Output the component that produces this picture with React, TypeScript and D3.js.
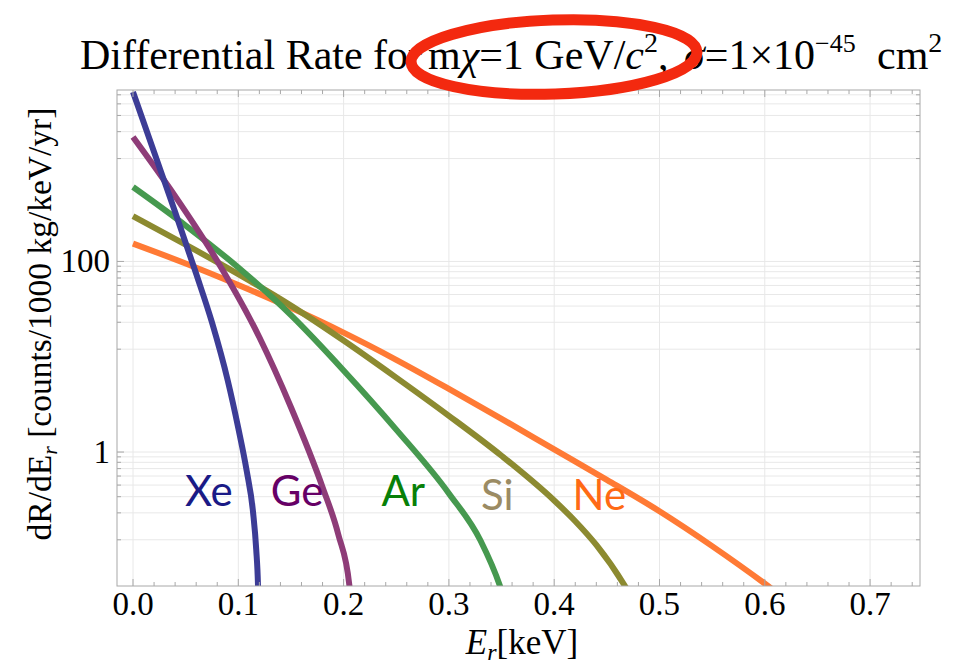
import React from "react";
import * as d3 from "d3";

// ---------- data ----------
const energyXe = [0, 0.02, 0.04, 0.06, 0.075, 0.09, 0.1, 0.108, 0.114, 0.117, 0.1187, 0.1195];
const rateXe = [6000, 1406, 330, 74.1, 22.9, 5.62, 1.78, 0.631, 0.234, 0.0955, 0.0398, 0.0158];

const energyGe = [0, 0.04, 0.08, 0.12, 0.15, 0.18, 0.195, 0.2055, 0.208];
const rateGe = [2020, 484, 101, 16.0, 2.95, 0.427, 0.136, 0.0398, 0.02];

const energyAr = [0, 0.05, 0.1, 0.15, 0.2, 0.25, 0.3, 0.33, 0.3485, 0.355];
const rateAr = [604, 238, 86.3, 27.3, 7.18, 1.72, 0.368, 0.118, 0.0393, 0.0232];

const energySi = [0, 0.05, 0.1, 0.15, 0.2, 0.25, 0.3, 0.35, 0.4, 0.42, 0.44, 0.4672, 0.48];
const rateSi = [299, 150, 73.5, 34.4, 14.8, 6.04, 2.4, 0.914, 0.31, 0.188, 0.106, 0.0393, 0.0224];

const energyNe = [0, 0.05, 0.1, 0.15, 0.2, 0.25, 0.3, 0.35, 0.4, 0.45, 0.5, 0.55, 0.603, 0.65];
const rateNe = [154, 95.1, 56.6, 32.6, 17.9, 9.29, 4.6, 2.23, 1.067, 0.511, 0.239, 0.103, 0.0393, 0.0155];

const elements = ["Ne", "Si", "Ar", "Ge", "Xe"];
const lineColors = ["#ff7a35", "#8c8a30", "#46994f", "#8e3c78", "#3c3c96"];
const labelColors = ["#ff6a14", "#9b8b63", "#088008", "#660066", "#1a1a86"];
// label anchor (left edge energy, baseline rate)
const labelEnergy = [0.4174, 0.3305, 0.2359, 0.1308, 0.0494];
const labelRate = [0.246, 0.246, 0.271, 0.271, 0.271];

const xMajorTicks = [0, 0.1, 0.2, 0.3, 0.4, 0.5, 0.6, 0.7];
const xTickLabels = ["0.0", "0.1", "0.2", "0.3", "0.4", "0.5", "0.6", "0.7"];
const yMajorTicks = [1, 100];
const yTickLabels = ["1", "100"];
const yMinorMantissas = [1.2, 2.3, 3.4, 4.5, 5.6, 6.7, 7.8, 8.9];
const yMinorDecades = [0.1, 10, 1000];

const seriesEnergy = [energyNe, energySi, energyAr, energyGe, energyXe];
const seriesRate = [rateNe, rateSi, rateAr, rateGe, rateXe];

// ---------- layout ----------
const W = 968;
const H = 666;
const L = 117, R = 920, T = 90, B = 586;

export default function App() {
  const x = d3.scaleLinear().domain([-0.0152, 0.7474]).range([L, R]);
  const y = d3.scaleLog().domain([0.0393, 6290]).range([B, T]);

  const line = d3
    .line<[number, number]>()
    .x((d) => x(d[0]))
    .y((d) => y(d[1]))
    .curve(d3.curveMonotoneX);

  const xMinor = d3
    .range(0, 0.7401, 0.02)
    .filter((v) => Math.abs(v * 10 - Math.round(v * 10)) > 1e-6);
  const yMinor: number[] = [];
  yMinorDecades.forEach((dec) =>
    yMinorMantissas.forEach((m) => {
      const v = m * dec;
      if (v > 0.0393 && v < 6290) yMinor.push(v);
    })
  );
  const yAllTicks = [...yMajorTicks, ...yMinor];

  const frameColor = "#a8a8a8";
  const gridColor = "#e8e8e8";
  const serif = "'Liberation Serif', 'Times New Roman', serif";

  return (
    <svg
      width={W}
      height={H}
      style={{ position: "absolute", left: 0, top: 0, background: "#fff" }}
    >
      <rect x={0} y={0} width={W} height={H} fill="#fff" />
      <defs>
        <clipPath id="plotClip">
          <rect x={L} y={T} width={R - L} height={B - T} />
        </clipPath>
      </defs>

      {/* grid */}
      {yAllTicks.map((v, i) => (
        <line key={"gy" + i} x1={L} x2={R} y1={y(v)} y2={y(v)} stroke={gridColor} strokeWidth={1} />
      ))}
      {xMajorTicks.map((v, i) => (
        <line key={"gx" + i} x1={x(v)} x2={x(v)} y1={T} y2={B} stroke={gridColor} strokeWidth={1} />
      ))}

      {/* curves */}
      <g clipPath="url(#plotClip)">
        {elements.map((el, i) => (
          <path
            key={el}
            d={line(seriesEnergy[i].map((e, j) => [e, seriesRate[i][j]] as [number, number])) || ""}
            fill="none"
            stroke={lineColors[i]}
            strokeWidth={6}
            strokeLinejoin="round"
          />
        ))}
      </g>

      {/* frame */}
      <rect x={L} y={T} width={R - L} height={B - T} fill="none" stroke={frameColor} strokeWidth={1} />

      {/* x ticks */}
      {xMajorTicks.map((v, i) => (
        <g key={"xt" + i}>
          <line x1={x(v)} x2={x(v)} y1={B} y2={B - 7} stroke={frameColor} />
          <line x1={x(v)} x2={x(v)} y1={T} y2={T + 7} stroke={frameColor} />
          <text x={x(v)} y={615} fontFamily={serif} fontSize={33} textAnchor="middle" fill="#000">
            {xTickLabels[i]}
          </text>
        </g>
      ))}
      {xMinor.map((v, i) => (
        <g key={"xm" + i}>
          <line x1={x(v)} x2={x(v)} y1={B} y2={B - 4} stroke={frameColor} />
          <line x1={x(v)} x2={x(v)} y1={T} y2={T + 4} stroke={frameColor} />
        </g>
      ))}

      {/* y ticks */}
      {yMajorTicks.map((v, i) => (
        <g key={"yt" + i}>
          <line x1={L} x2={L + 7} y1={y(v)} y2={y(v)} stroke={frameColor} />
          <line x1={R} x2={R - 7} y1={y(v)} y2={y(v)} stroke={frameColor} />
          <text x={110} y={y(v) + 11} fontFamily={serif} fontSize={33} textAnchor="end" fill="#000">
            {yTickLabels[i]}
          </text>
        </g>
      ))}
      {yMinor.map((v, i) => (
        <g key={"ym" + i}>
          <line x1={L} x2={L + 4} y1={y(v)} y2={y(v)} stroke={frameColor} />
          <line x1={R} x2={R - 4} y1={y(v)} y2={y(v)} stroke={frameColor} />
        </g>
      ))}

      {/* element labels */}
      {elements.map((el, i) => (
        <text
          key={"lab" + el}
          x={x(labelEnergy[i])}
          y={y(labelRate[i])}
          fontFamily="Lato, 'Open Sans', sans-serif"
          fontSize={42}
          fill={labelColors[i]}
        >
          {el}
        </text>
      ))}

      {/* axis labels */}
      <text x={522} y={654} fontFamily={serif} fontSize={35} textAnchor="middle" fill="#000">
        <tspan fontStyle="italic">E</tspan>
        <tspan fontStyle="italic" fontSize={24} dy={6}>r</tspan>
        <tspan dy={-6}>[keV]</tspan>
      </text>
      <text
        transform="translate(51,324) rotate(-90)"
        fontFamily={serif}
        fontSize={33.5}
        textAnchor="middle"
        fill="#000"
      >
        <tspan>dR/dE</tspan>
        <tspan fontStyle="italic" fontSize={22} dy={6}>r</tspan>
        <tspan dy={-6}> [counts/1000 kg/keV/yr]</tspan>
      </text>

      {/* title */}
      <g fontFamily={serif} fontSize={42} fill="#000">
        <text x={80} y={69}>Differential Rate for</text>
        <text x={428} y={69}>
          <tspan>m</tspan>
          <tspan fontStyle="italic">χ</tspan>
          <tspan>=1 GeV/</tspan>
          <tspan fontStyle="italic">c</tspan>
          <tspan fontSize={28} dy={-17}>2</tspan>
          <tspan dy={17}>,</tspan>
        </text>
        <text x={684} y={69}>
          <tspan fontStyle="italic">σ</tspan>
          <tspan>=1×10</tspan>
          <tspan fontSize={26} dy={-17}>−45</tspan>
        </text>
        <text x={877} y={69}>
          <tspan>cm</tspan>
          <tspan fontSize={28} dy={-17}>2</tspan>
        </text>
      </g>

      {/* red highlight ellipse */}
      <ellipse
        cx={554}
        cy={57}
        rx={143}
        ry={37}
        fill="none"
        stroke="#f3290f"
        strokeWidth={11}
        transform="rotate(-2 554 57)"
      />
    </svg>
  );
}
